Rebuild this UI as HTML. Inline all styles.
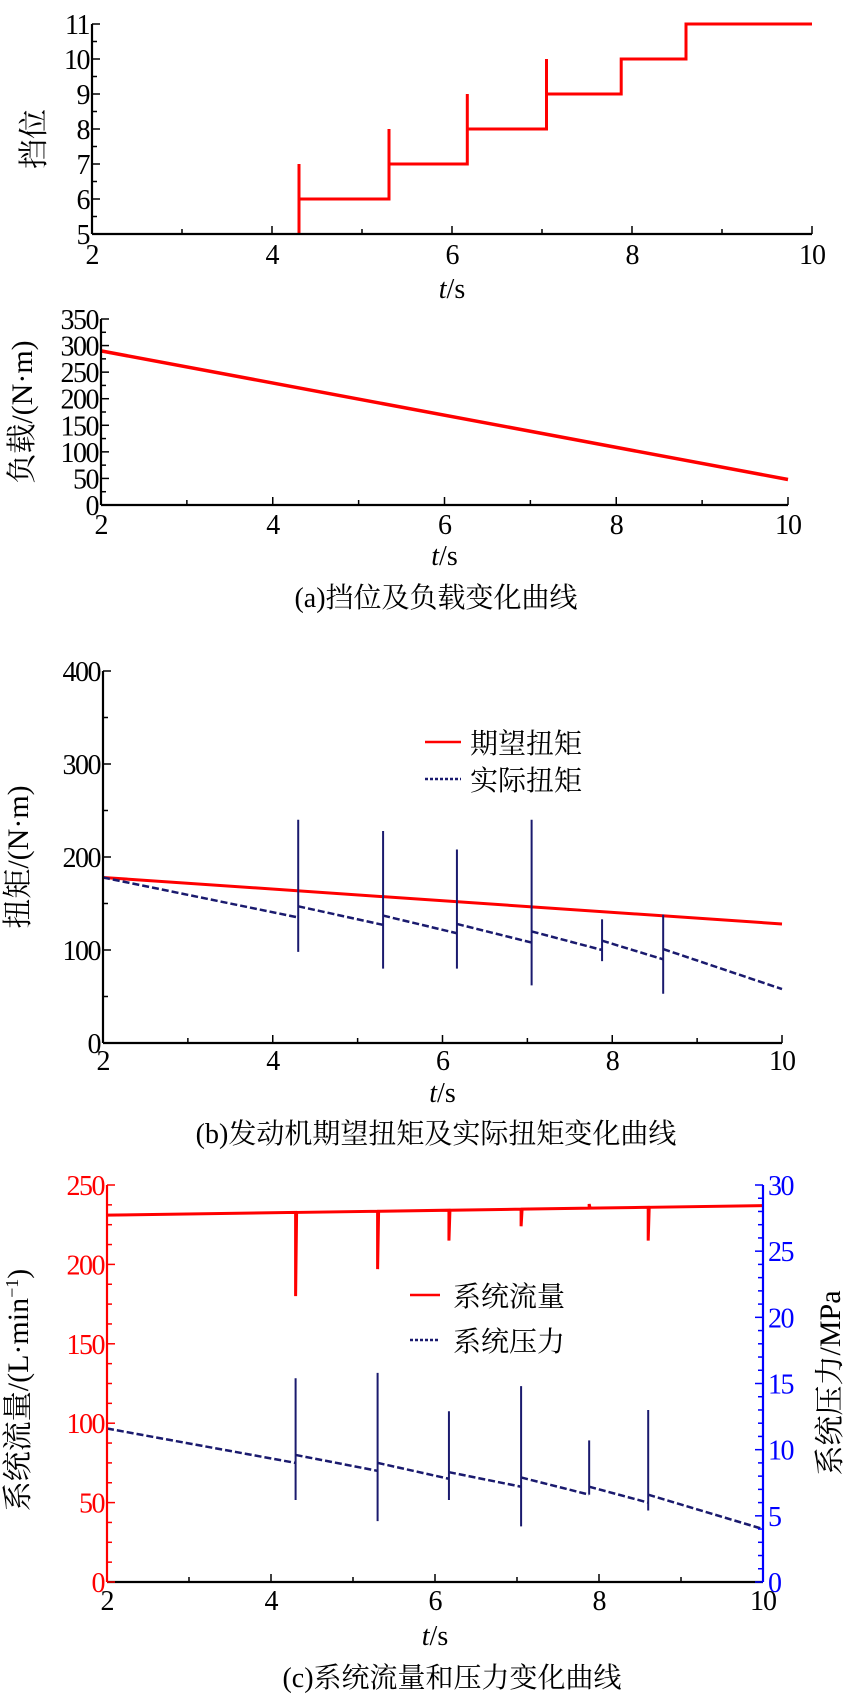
<!DOCTYPE html>
<html><head><meta charset="utf-8"><style>
html,body{margin:0;padding:0;background:#fff;}
svg{display:block;font-family:"Liberation Serif","Noto Serif CJK SC","Noto Sans CJK SC",serif;}
</style></head><body>
<svg id="fig" width="850" height="1697" viewBox="0 0 850 1697" xmlns="http://www.w3.org/2000/svg"></svg>
<script>
// ---- data ----
const shiftTimes = [4.3, 5.3, 6.17, 7.05, 7.88, 8.6];
const gearLevels = [5, 6, 7, 8, 9, 10, 11];
const gearSpikes = [7, 8, 9, 10, null, null];
const loadStart = 290, loadEnd = 48;
const desiredTorque = [178, 128];
const actualStart = [178, 147, 137, 128, 120, 110, 101];
const actualEnd = [135, 127, 118, 108, 100, 90, 58];
const torqueSpikeMax = [240, 228, 208, 240, 133, 138];
const torqueSpikeMin = [98, 80, 80, 62, 88, 53];
const flowEnds = [231, 237];
const flowDips = [180, 197, 215, 224, 238, 215];
const presStart = [11.6, 9.6, 9.0, 8.3, 7.9, 7.2, 6.6];
const presEnd = [9.0, 8.4, 7.8, 7.2, 6.6, 6.0, 4.0];
const presSpikeMax = [15.4, 15.8, 12.9, 14.8, 10.7, 13.0];
const presSpikeMin = [6.2, 4.6, 6.2, 4.2, 6.6, 5.4];
const xTicks = [2, 4, 6, 8, 10];
const gearTicks = [5, 6, 7, 8, 9, 10, 11];
const loadTicks = [0, 50, 100, 150, 200, 250, 300, 350];
const torqueTicks = [0, 100, 200, 300, 400];
const flowTicks = [0, 50, 100, 150, 200, 250];
const presTicks = [0, 5, 10, 15, 20, 25, 30];

const svg = document.getElementById('fig');
const NS = 'http://www.w3.org/2000/svg';
const TICK = 28;
function mk(tag, attrs, parent) {
  const e = document.createElementNS(NS, tag);
  for (const k in attrs) e.setAttribute(k, attrs[k]);
  (parent || svg).appendChild(e);
  return e;
}
function txt(s, x, y, size, color, anchor, parent) {
  const t = mk('text', {x: x, y: y, 'font-size': size, fill: color || '#000', 'text-anchor': anchor || 'middle'}, parent);
  t.textContent = s;
  return t;
}
function scale(d0, d1, r0, r1) { return v => r0 + (v - d0) / (d1 - d0) * (r1 - r0); }

function xAxis(g, X, y0, x0, x1, labelY, tlabelY) {
  mk('line', {x1: x0, y1: y0, x2: x1, y2: y0, stroke: '#000', 'stroke-width': 2.2}, g);
  for (let t = 2; t <= 10; t++) {
    const major = t % 2 === 0;
    mk('line', {x1: X(t), y1: y0, x2: X(t), y2: y0 - (major ? 8 : 5), stroke: '#000', 'stroke-width': 1.5}, g);
  }
  xTicks.forEach(t => {
    const l = txt(String(t), X(t), labelY, TICK, '#000', 'middle', g);
    l.setAttribute('letter-spacing', '-1');
    
    
  });
  const tl = mk('text', {x: (x0 + x1) / 2, y: tlabelY, 'font-size': 28, 'text-anchor': 'middle'}, g);
  
  
  tl.innerHTML = '<tspan font-style="italic">t</tspan>/s';
}
function yAxis(g, Y, x0, ticks, minorStep, color, side) {
  const top = Y(ticks[ticks.length - 1]), bot = Y(ticks[0]);
  mk('line', {x1: x0, y1: top, x2: x0, y2: bot, stroke: color, 'stroke-width': 2.2}, g);
  const dir = side === 'left' ? 1 : -1;
  for (let v = ticks[0]; v <= ticks[ticks.length - 1] + 1e-9; v += minorStep) {
    const major = ticks.some(t => Math.abs(t - v) < 1e-9);
    mk('line', {x1: x0, y1: Y(v), x2: x0 + dir * (major ? 8 : 5), y2: Y(v), stroke: color, 'stroke-width': 1.5}, g);
  }
  ticks.forEach(v => {
    const l = txt(String(v), side === 'left' ? x0 - 3 : x0 + 5, Y(v) + 10, TICK, color, side === 'left' ? 'end' : 'start', g);
    l.setAttribute('letter-spacing', '-1.5');
    
    
  });
}
function vtitle(g, s, x, y, color, size) {
  const t = mk('text', {x: 0, y: 0, 'font-size': size || 30, fill: color || '#000', 'text-anchor': 'middle', transform: `translate(${x},${y}) rotate(-90)`}, g);
  t.innerHTML = s;
  return t;
}

// ===== Panel a1: gear =====
{
  const g = mk('g', {});
  
  
  const X = scale(2, 10, 92, 812), Y = scale(5, 11, 234, 24);
  let d = `M${X(shiftTimes[0])},${Y(gearLevels[0])}`;
  shiftTimes.forEach((t, i) => {
    const lv = gearLevels[i + 1];
    if (gearSpikes[i] !== null) d += ` L${X(t)},${Y(gearSpikes[i])} L${X(t)},${Y(lv)}`;
    else d += ` L${X(t)},${Y(lv)}`;
    const next = i + 1 < shiftTimes.length ? shiftTimes[i + 1] : 10;
    d += ` L${X(next)},${Y(lv)}`;
  });
  const p = mk('path', {d: d, fill: 'none', stroke: '#ff0000', 'stroke-width': 3}, g);
  
  
  xAxis(g, X, 234, 92, 812, 264, 298);
  yAxis(g, Y, 92, gearTicks, 0.5, '#000', 'left');
  const yt = vtitle(g, '挡位', 44, 139);
  
  
}
// ===== Panel a2: load =====
{
  const g = mk('g', {});
  
  
  const X = scale(2, 10, 101, 788), Y = scale(0, 350, 505, 319);
  const p = mk('line', {x1: X(2), y1: Y(loadStart), x2: X(10), y2: Y(loadEnd), stroke: '#ff0000', 'stroke-width': 3.5}, g);
  
  
  xAxis(g, X, 505, 101, 788, 534, 565);
  yAxis(g, Y, 101, loadTicks, 25, '#000', 'left');
  const yt = vtitle(g, '负载/(N·m)', 32, 412);
  
  
  const c = txt('(a)挡位及负载变化曲线', 436, 607, 28, '#000', 'middle', g);
  
  
}
// ===== Panel b: torque =====
{
  const g = mk('g', {});
  
  
  const X = scale(2, 10, 103, 782), Y = scale(0, 400, 1043, 671);
  const r = mk('line', {x1: X(2), y1: Y(desiredTorque[0]), x2: X(10), y2: Y(desiredTorque[1]), stroke: '#ff0000', 'stroke-width': 3}, g);
  
  
  const bounds = [2].concat(shiftTimes).concat([10]);
  for (let i = 0; i < actualStart.length; i++) {
    const s = mk('line', {x1: X(bounds[i]), y1: Y(actualStart[i]), x2: X(bounds[i + 1]), y2: Y(actualEnd[i]), stroke: '#1a1a6e', 'stroke-width': 2.5, 'stroke-dasharray': '7,3'}, g);
    
    
  }
  shiftTimes.forEach((t, i) => {
    const s = mk('line', {x1: X(t), y1: Y(torqueSpikeMax[i]), x2: X(t), y2: Y(torqueSpikeMin[i]), stroke: '#1a1a6e', 'stroke-width': 2}, g);
    
    
  });
  xAxis(g, X, 1043, 103, 782, 1070, 1102);
  yAxis(g, Y, 103, torqueTicks, 50, '#000', 'left');
  const yt = vtitle(g, '扭矩/(N·m)', 28, 857);
  
  
  const lg = mk('g', {}, g);
  
  
  mk('line', {x1: 425, y1: 742, x2: 461, y2: 742, stroke: '#ff0000', 'stroke-width': 2.5}, lg);
  txt('期望扭矩', 470, 753, 28, '#000', 'start', lg);
  mk('line', {x1: 425, y1: 779, x2: 461, y2: 779, stroke: '#1a1a6e', 'stroke-width': 2.5, 'stroke-dasharray': '3,2'}, lg);
  txt('实际扭矩', 470, 790, 28, '#000', 'start', lg);
  const c = txt('(b)发动机期望扭矩及实际扭矩变化曲线', 436, 1143, 28, '#000', 'middle', g);
  
  
}
// ===== Panel c: flow & pressure =====
{
  const g = mk('g', {});
  
  
  const X = scale(2, 10, 107, 763), Y = scale(0, 250, 1582, 1185), Yp = scale(0, 30, 1582, 1185);
  const fy = t => flowEnds[0] + (flowEnds[1] - flowEnds[0]) * (t - 2) / 8;
  let d = `M${X(2)},${Y(fy(2))}`;
  shiftTimes.forEach((t, i) => {
    d += ` L${X(t)},${Y(fy(t))} L${X(t)},${Y(flowDips[i])} L${X(t) + 1},${Y(fy(t))}`;
  });
  d += ` L${X(10)},${Y(fy(10))}`;
  const f = mk('path', {d: d, fill: 'none', stroke: '#ff0000', 'stroke-width': 3}, g);
  
  
  const bounds = [2].concat(shiftTimes).concat([10]);
  for (let i = 0; i < presStart.length; i++) {
    const s = mk('line', {x1: X(bounds[i]), y1: Yp(presStart[i]), x2: X(bounds[i + 1]), y2: Yp(presEnd[i]), stroke: '#1a1a6e', 'stroke-width': 2.5, 'stroke-dasharray': '7,3'}, g);
    
    
  }
  shiftTimes.forEach((t, i) => {
    const s = mk('line', {x1: X(t), y1: Yp(presSpikeMax[i]), x2: X(t), y2: Yp(presSpikeMin[i]), stroke: '#1a1a6e', 'stroke-width': 2}, g);
    
    
  });
  xAxis(g, X, 1582, 107, 763, 1610, 1645);
  yAxis(g, Y, 107, flowTicks, 12.5, '#ff0000', 'left');
  yAxis(g, Yp, 763, presTicks, 1, '#0000ff', 'right');
  const yl = vtitle(g, '系统流量/(L·min<tspan dy="-10" font-size="18">−1</tspan><tspan dy="10">)</tspan>', 28, 1390);
  
  
  const yr = vtitle(g, '系统压力/MPa', 840, 1383);
  
  
  const lg = mk('g', {}, g);
  
  
  mk('line', {x1: 410, y1: 1295, x2: 440, y2: 1295, stroke: '#ff0000', 'stroke-width': 2.5}, lg);
  txt('系统流量', 453, 1306, 28, '#000', 'start', lg);
  mk('line', {x1: 410, y1: 1340, x2: 440, y2: 1340, stroke: '#1a1a6e', 'stroke-width': 2.5, 'stroke-dasharray': '3,2'}, lg);
  txt('系统压力', 453, 1351, 28, '#000', 'start', lg);
  const c = txt('(c)系统流量和压力变化曲线', 452, 1687, 28, '#000', 'middle', g);
  
  
}
</script>
</body></html>
